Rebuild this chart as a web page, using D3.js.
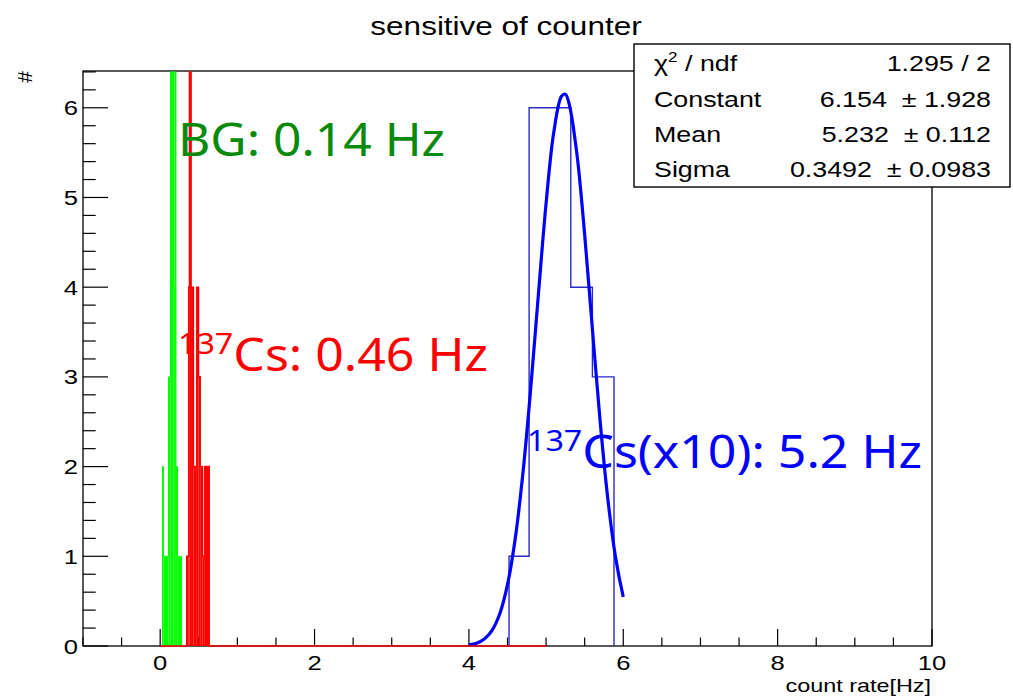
<!DOCTYPE html>
<html><head><meta charset="utf-8">
<script src="https://cdn.jsdelivr.net/npm/d3@7"></script>
<style>html,body{margin:0;padding:0;background:#fff;}svg{display:block;}</style>
</head><body>
<svg id="c" width="1013" height="697"></svg>
<script>
// ---- data ----
const xDomain = [-1, 10];
const yDomain = [0, 6.41];
const xMajorTicks = [0, 2, 4, 6, 8, 10];
const yMajorTicks = [0, 1, 2, 3, 4, 5, 6];

// background (green) histogram
const greenEdges  = [0.030, 0.043, 0.108, 0.134, 0.173, 0.191, 0.204, 0.225, 0.251, 0.264, 0.277];
const greenCounts = [2, 1, 3, 7, 4, 7, 2, 1, 0, 1];
// 137Cs (red) histogram, axis range 0..5
const redRange  = [0, 5];
const redEdges  = [0.345, 0.370, 0.380, 0.400, 0.430, 0.475, 0.496, 0.518, 0.548, 0.579, 0.635];
const redCounts = [1, 4, 7, 4, 2, 4, 3, 2, 1, 2];
// 137Cs x10 (blue) histogram
const blueEdges  = [4.52, 4.78, 5.05, 5.32, 5.60, 5.88];
const blueCounts = [1, 6, 6, 4, 3];
// gaussian fit curve samples
const fitX = [4.0, 4.1, 4.2, 4.3, 4.4, 4.5, 4.6, 4.7, 4.8, 4.9, 5.0, 5.1, 5.2, 5.25, 5.3, 5.4, 5.5, 5.6, 5.7, 5.8, 5.9, 6.0];
const fitY = [0.012, 0.032, 0.078, 0.175, 0.360, 0.684, 1.196, 1.929, 2.863, 3.916, 4.935, 5.730, 6.128, 6.152, 6.038, 5.481, 4.584, 3.532, 2.507, 1.639, 0.988, 0.548];

const statLabels = ["Constant", "Mean", "Sigma"];
const statValues = ["6.154", "5.232", "0.3492"];
const statErrors = ["1.928", "0.112", "0.0983"];
const chi2Text = "1.295 / 2";

// ---- drawing ----
const svg = d3.select("#c");
const L = 83, R = 932, T = 71, B = 646;
const x = d3.scaleLinear().domain(xDomain).range([L, R]);
const y = d3.scaleLinear().domain(yDomain).range([B, T]);
const yTop = yDomain[1];

svg.append("defs").append("clipPath").attr("id", "frameClip")
  .append("rect").attr("x", L).attr("y", T + 0.5).attr("width", R - L).attr("height", B - T + 1.5);

// frame
svg.append("rect").attr("x", L).attr("y", T).attr("width", R - L).attr("height", B - T)
  .attr("fill", "none").attr("stroke", "#000").attr("stroke-width", 1.3);

// ticks
const axisG = svg.append("g").attr("stroke", "#000").attr("stroke-width", 1.2);
d3.range(-1, 10.001, 0.5).forEach(v => {
  const major = xMajorTicks.some(t => Math.abs(t - v) < 1e-6);
  axisG.append("line").attr("x1", x(v)).attr("x2", x(v)).attr("y1", B).attr("y2", B - (major ? 17 : 8.5));
});
d3.range(0, yTop + 1e-6, 0.2).forEach(v => {
  const major = yMajorTicks.some(t => Math.abs(t - v) < 1e-6);
  axisG.append("line").attr("x1", L).attr("x2", L + (major ? 25 : 12.7)).attr("y1", y(v)).attr("y2", y(v));
});

const plot = svg.append("g").attr("clip-path", "url(#frameClip)");

function histPath(edges, counts, range) {
  const p = d3.path();
  let start = range ? range[0] : edges[0];
  p.moveTo(x(start), y(0));
  if (range) p.lineTo(x(edges[0]), y(0));
  for (let i = 0; i < counts.length; i++) {
    const v = Math.min(counts[i], yTop + 0.5);
    p.lineTo(x(edges[i]), y(v));
    p.lineTo(x(edges[i + 1]), y(v));
  }
  p.lineTo(x(edges[edges.length - 1]), y(0));
  if (range) p.lineTo(x(range[1]), y(0));
  return p.toString();
}
function histFill(g, edges, counts, color) {
  g.selectAll(null).data(counts).enter().append("rect")
    .attr("x", (d, i) => x(edges[i]))
    .attr("width", (d, i) => x(edges[i + 1]) - x(edges[i]))
    .attr("y", d => y(Math.min(d, yTop + 0.5)))
    .attr("height", d => y(0) - y(Math.min(d, yTop + 0.5)))
    .attr("fill", color);
}

// blue histogram (outline)
plot.append("path").attr("d", histPath(blueEdges, blueCounts))
  .attr("fill", "none").attr("stroke", "#2a2ac8").attr("stroke-width", 1.4);

// blue fit
const line = d3.line().x((d, i) => x(fitX[i])).y(d => y(d)).curve(d3.curveCatmullRom);
plot.append("path").attr("d", line(fitY)).attr("fill", "none")
  .attr("stroke", "#0000ff").attr("stroke-width", 3.2).attr("stroke-linejoin", "round");

// green histogram
const gG = plot.append("g");
histFill(gG, greenEdges, greenCounts, "#00ff00");
gG.append("path").attr("d", histPath(greenEdges, greenCounts)).attr("fill", "none")
  .attr("stroke", "#00ff00").attr("stroke-width", 1);

// red histogram
const rG = plot.append("g");
histFill(rG, redEdges, redCounts, "#ff0000");
rG.append("path").attr("d", histPath(redEdges, redCounts, redRange)).attr("fill", "none")
  .attr("stroke", "#ff0000").attr("stroke-width", 1.6);

// texts
const SX = 1.22;
function stext(px, py, str, opts) {
  const g = svg.append("g").attr("transform", `translate(${px},${py}) scale(${opts.sx || SX},1)`);
  const t = g.append("text").attr("x", 0).attr("y", 0)
    .attr("font-family", opts.family || "'Liberation Sans', Arial, sans-serif")
    .attr("font-size", opts.size || 20)
    .attr("fill", opts.fill || "#000")
    .attr("text-anchor", opts.anchor || "start");
  if (str !== null) t.text(str);
  return t;
}
xMajorTicks.forEach(v => stext(x(v), 670, String(v), {anchor: "middle", size: 21}));
yMajorTicks.forEach(v => stext(L - 5, y(v) + 7.5, String(v), {anchor: "end", size: 21}));
stext(931, 692, "count rate[Hz]", {anchor: "end", size: 18, sx: 1.3});
svg.append("text").attr("transform", "translate(32,77) rotate(-90)")
  .attr("font-family", "'Liberation Sans', Arial, sans-serif").attr("font-size", 21)
  .attr("text-anchor", "middle").text("#");

// title
stext(506, 35, "sensitive of counter", {anchor: "middle", size: 25, sx: 1.26});

// annotations
const annFont = "'Noto Sans', 'Open Sans', sans-serif";
svg.append("text").attr("x", 178).attr("y", 156).attr("font-family", annFont).attr("font-size", 45)
  .attr("fill", "#0a8a0a").attr("textLength", 267).attr("lengthAdjust", "spacingAndGlyphs")
  .text("BG: 0.14 Hz");
function isoText(px, py, rest, color, width) {
  const t = svg.append("text").attr("x", px).attr("y", py).attr("font-family", annFont)
    .attr("fill", color).attr("textLength", width).attr("lengthAdjust", "spacingAndGlyphs");
  t.append("tspan").attr("font-size", 29).attr("dy", -17).text("137");
  t.append("tspan").attr("font-size", 45).attr("dy", 17).text(rest);
}
isoText(178, 371, "Cs: 0.46 Hz", "#ff0000", 310);
isoText(527, 468, "Cs(x10): 5.2 Hz", "#0000ff", 395);

// stats box
svg.append("rect").attr("x", 634).attr("y", 44).attr("width", 376).attr("height", 143)
  .attr("fill", "#fff").attr("stroke", "#000").attr("stroke-width", 1.4);
const rowY = [71, 107, 142, 177];
const chiT = stext(654, rowY[0], null, {size: 22});
chiT.append("tspan").text("\u03C7");
chiT.append("tspan").attr("font-size", 14).attr("dy", -9).text("2");
chiT.append("tspan").attr("dy", 9).text(" / ndf");
stext(991, rowY[0], chi2Text, {anchor: "end", size: 22});
statLabels.forEach((s, i) => {
  stext(654, rowY[i + 1], s, {size: 22});
  stext(991, rowY[i + 1], statValues[i] + " \u00A0\u00B1 " + statErrors[i], {anchor: "end", size: 22});
});
</script>
</body></html>
